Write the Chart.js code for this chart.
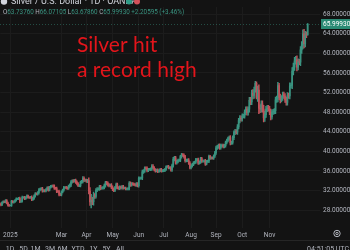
<!DOCTYPE html>
<html>
<head>
<meta charset="utf-8">
<script src="https://cdn.jsdelivr.net/npm/chart.js@4.4.1/dist/chart.umd.min.js"></script>
<style>
  html, body { margin: 0; padding: 0; background: #131313; overflow: hidden; }
  canvas { display: block; }
</style>
</head>
<body>
<canvas id="chart" width="350" height="250"></canvas>
<script>
// daily closes, XAG/USD (OANDA), 19 Dec 2024 .. 17 Dec 2025
var closes = [
    29.04, 29.55, 29.72, 29.64, 29.95, 29.45, 29.00, 28.92,                     // Dec 24
    28.95, 29.80, 29.62, 29.70, 30.00, 30.30, 30.32, 30.42, 29.75, 29.85, 30.60, 30.62,
    30.35, 30.62, 30.90, 30.60, 30.55, 30.65, 30.15, 30.40, 30.90, 31.30, 31.28, // Jan
    31.55, 32.10, 32.30, 32.40, 31.90, 32.00, 31.90, 32.20, 32.55, 32.10,
    32.65, 32.85, 32.95, 32.90, 32.45, 32.40, 31.85, 31.80, 31.20, 31.15,       // Feb
    31.70, 32.10, 32.60, 32.60, 32.55, 32.40, 32.90, 33.10, 33.70, 34.00, 33.90,
    34.10, 33.70, 33.40, 33.00, 33.00, 33.65, 33.90, 34.50, 34.10, 34.10,       // Mar
    33.90, 34.00, 31.90, 29.65, 30.00, 29.70, 30.95, 30.80, 32.05, 32.30, 32.30,
    32.75, 32.45, 32.50, 32.60, 33.00, 33.55, 33.50, 33.15, 33.00, 33.10, 32.65, // Apr
    32.25, 32.00, 32.60, 33.20, 32.60, 32.40, 32.70, 32.50, 32.80, 32.50, 32.50,
    32.30, 32.30, 32.40, 33.50, 33.10, 33.40, 33.30, 33.20, 33.10, 33.35, 33.00, // May
    34.50, 34.50, 34.55, 35.80, 35.95, 36.60, 36.55, 36.10, 36.30, 36.30, 36.40,
    37.00, 36.70, 36.20, 36.00, 36.15, 35.90, 36.05, 36.30, 36.00, 36.05,       // Jun
    36.10, 36.30, 36.85, 36.95, 36.60, 36.65, 36.20, 37.10, 38.40, 38.65, 37.65, 37.90,
    38.15, 38.20, 38.90, 39.30, 39.20, 38.90, 38.10, 38.15, 38.20, 37.60, 36.70, // Jul
    37.00, 37.30, 37.65, 37.80, 38.30, 38.30, 37.60, 37.80, 38.50, 38.00, 38.00,
    38.05, 37.40, 37.95, 38.00, 38.95, 38.60, 38.65, 38.60, 39.05, 39.70,       // Aug
    40.70, 40.90, 41.20, 40.75, 41.20, 41.20, 41.00, 41.15, 41.80, 42.20, 42.60,
    42.80, 41.70, 41.80, 42.80, 43.80, 44.10, 43.90, 45.00, 46.30, 46.80, 46.60, // Sep
    47.20, 47.20, 48.00, 48.60, 47.90, 48.60, 50.40, 50.10, 51.90, 51.40, 52.50, 53.90,
    51.00, 52.50, 48.80, 48.60, 49.70, 48.60, 46.80, 47.50, 48.60, 48.90, 48.70, // Oct
    48.00, 47.00, 48.00, 48.10, 48.30, 50.50, 50.80, 53.40, 51.00, 50.60,
    50.90, 51.60, 51.30, 50.50, 50.00, 51.40, 51.30, 53.40, 53.50, 56.40,       // Nov
    57.20, 58.50, 58.70, 57.20, 58.30, 58.20, 60.70, 61.70, 64.00, 62.00,
    63.80, 63.79335, 65.9993                                                    // Dec
];

// how far each candle's wick reaches past its body
var wick = [
    .2, .15, .15, .15, .2, .2, .2, .15,
    .05, .2, .15, .2, .15, .2, .15, .2, .25, .2, .25, .15, .2, .15, .2, .15, .15, .15, .25, .2, .2, .25, .2,
    .25, .3, .2, .2, .25, .2, .2, .2, .2, .25, .2, .2, .15, .2, .25, .2, .3, .2, .3, .2,
    .25, .2, .25, .2, .25, .2, .2, .25, .3, .2, .25, .2, .25, .25, .2, .2, .25, .2, .35, .3, .25,
    .25, .3, .6, .7, 1.2, .6, .7, .4, .35, .3, .25, .3, .3, .2, .25, .3, .3, .3, .25, .25, .2, .3,
    .3, .25, .25, .3, .3, .2, .25, .2, .25, .25, .2, .2, .2, .2, .3, .25, .2, .2, .2, .2, .25, .25,
    .3, .25, .2, .35, .3, .25, .25, .3, .25, .2, .25, .3, .3, .2, .25, .2, .25, .2, .2, .25, .2,
    .2, .25, .2, .15, .2, .2, .25, .3, .35, .35, .3, .3, .25, .2, .3, .3, .25, .3, .3, .25, .25, .3, .3,
    .3, .25, .25, .2, .25, .25, .3, .25, .25, .25, .2, .2, .3, .2, .2, .3, .25, .2, .2, .25, .3,
    .35, .3, .3, .35, .3, .3, .3, .3, .3, .3, .3, .3, .4, .3, .35, .4, .4, .35, .45, .45, .5, .45,
    .45, .4, .45, .5, .5, .5, .6, .6, .6, .7, .6, .4, .3, .8, 1.1, .7, .6, .6, .8, .7, .6, .5, .5,
    .5, .6, .45, .45, .45, .6, .5, .7, .5, .7, .5, .5, .5, .5, .6, .6, .5, .6, .45, .7,
    .8, .7, .7, .8, .6, .5, .7, .7, .8, .9, .7, .6, .07
];

var firstOpen = 29.30;
var monthLabels = ['2025', 'Mar', 'Apr', 'May', 'Jun', 'Jul', 'Aug', 'Sep', 'Oct', 'Nov'];
var monthStart = [8, 51, 72, 94, 116, 137, 160, 181, 203, 226];   // candle index of the 1st trading day
var priceTicks = [28, 32, 36, 40, 44, 48, 52, 56, 60, 64, 68];
var lastPrice = 65.9993;

var UP = '#3a9481', DOWN = '#c2525a', TEXT = '#b2b5be', GRID = '#1c1c1c', BG = '#131313';

// OANDA daily candles open at the prior close
var opens = closes.map(function (c, i) { return i ? closes[i - 1] : firstOpen; });
var colors = closes.map(function (c, i) { return c >= opens[i] ? UP : DOWN; });

var bodies = [], wicks = [];
closes.forEach(function (c, i) {
    var hi = Math.max(c, opens[i]), lo = Math.min(c, opens[i]), w = wick[i] || 0.2;
    bodies.push({ x: i, y: [opens[i], c] });
    wicks.push({ x: i, y: [lo - w, hi + w] });
});

var decor = {
    id: 'decor',
    beforeDraw: function (chart) {
        var c = chart.ctx;
        c.save();
        c.fillStyle = BG;
        c.fillRect(0, 0, chart.width, chart.height);
        c.restore();
    },
    afterDatasetsDraw: function (chart) {
        var c = chart.ctx, a = chart.chartArea, y = chart.scales.y.getPixelForValue(lastPrice);
        c.save();
        // last price line + tag
        c.strokeStyle = 'rgba(58,148,129,0.45)';
        c.setLineDash([1, 2]);
        c.lineWidth = 1;
        c.beginPath();
        c.moveTo(0, Math.round(y) + 0.5);
        c.lineTo(a.right, Math.round(y) + 0.5);
        c.stroke();
        c.setLineDash([]);
        c.fillStyle = '#2a8a74';
        c.fillRect(a.right + 1, y - 5, 29, 10);
        c.fillStyle = '#ffffff';
        c.font = '6.5px Roboto';
        c.textBaseline = 'middle';
        c.fillText(lastPrice.toFixed(5), a.right + 3, y + 0.5);

        // header
        c.fillStyle = '#d1d4dc';
        c.font = '9px Roboto';
        c.textBaseline = 'middle';
        c.beginPath(); c.arc(4, 1.5, 3.2, 0, Math.PI * 2); c.fill();
        c.fillText('Silver / U.S. Dollar · 1D · OANDA', 11, 1.5);
        c.fillStyle = '#2e9c87';
        c.beginPath(); c.arc(129, 1.5, 3, 0, Math.PI * 2); c.fill();
        c.fillStyle = '#d4505a';
        c.beginPath(); c.arc(137, 1.5, 3, 0, Math.PI * 2); c.fill();

        // OHLC row
        var parts = [['O', TEXT], ['63.73760', UP], [' H', TEXT], ['66.07105', UP], [' L', TEXT],
            ['63.67860', UP], [' C', TEXT], ['65.99930', UP], [' +2.20595 (+3.46%)', UP]];
        var x = 3;
        c.font = '6.3px Roboto';
        parts.forEach(function (p) {
            c.fillStyle = p[1];
            c.fillText(p[0], x, 12);
            x += c.measureText(p[0]).width;
        });

        // annotation
        c.fillStyle = '#e3151b';
        c.font = '21px Lato';
        c.textBaseline = 'alphabetic';
        c.fillText('Silver hit', 77, 52);
        c.fillText('a record high', 77, 77);

        // bottom bar
        c.strokeStyle = '#262626';
        c.beginPath(); c.moveTo(0, 240.5); c.lineTo(350, 240.5); c.stroke();
        c.fillStyle = TEXT;
        c.font = '7px Roboto';
        c.textBaseline = 'middle';
        c.textAlign = 'center';
        [['1D', 10], ['5D', 23.5], ['1M', 35.5], ['3M', 50], ['6M', 62.5], ['YTD', 78], ['1Y', 93.5], ['5Y', 106.5], ['All', 120]]
            .forEach(function (b) { c.fillText(b[0], b[1], 249); });
        c.textAlign = 'right';
        c.fillText('04:51:05 UTC', 349, 249);
        c.strokeStyle = TEXT;
        c.beginPath(); c.arc(337, 233.5, 3.2, 0, Math.PI * 2); c.stroke();
        c.beginPath(); c.arc(337, 233.5, 1.2, 0, Math.PI * 2); c.stroke();
        c.restore();
    }
};

var ctx = document.getElementById('chart');
new Chart(ctx, {
    type: 'bar',
    plugins: [decor],
    data: {
        datasets: [
            { data: wicks, backgroundColor: colors, barThickness: 0.8, grouped: false, order: 2 },
            { data: bodies, backgroundColor: colors, barThickness: 1, grouped: false, order: 1 }
        ]
    },
    options: {
        responsive: false,
        animation: false,
        devicePixelRatio: 1,
        layout: { padding: 0 },
        plugins: { legend: { display: false }, tooltip: { enabled: false } },
        scales: {
            x: {
                type: 'linear',
                min: -0.5,
                max: 268.4,
                offset: false,
                grid: { color: GRID, drawTicks: false, offset: false },
                border: { display: false },
                afterBuildTicks: function (axis) {
                    axis.ticks = monthStart.map(function (v) { return { value: v }; });
                },
                afterFit: function (axis) { axis.height = 22; },
                ticks: {
                    autoSkip: false,
                    maxRotation: 0,
                    padding: 3,
                    color: TEXT,
                    font: { family: 'Roboto', size: 6.5 },
                    callback: function (v, i) { return monthLabels[i]; }
                }
            },
            y: {
                position: 'right',
                min: 24.34,
                max: 69.49,
                beginAtZero: false,
                grid: { color: GRID, drawTicks: false },
                border: { display: false },
                afterBuildTicks: function (axis) {
                    axis.ticks = priceTicks.map(function (v) { return { value: v }; });
                },
                afterFit: function (axis) { axis.width = 30; },
                ticks: {
                    padding: 3,
                    color: TEXT,
                    font: { family: 'Roboto', size: 6.5 },
                    callback: function (v) { return v.toFixed(5); }
                }
            }
        }
    }
});
</script>
</body>
</html>
